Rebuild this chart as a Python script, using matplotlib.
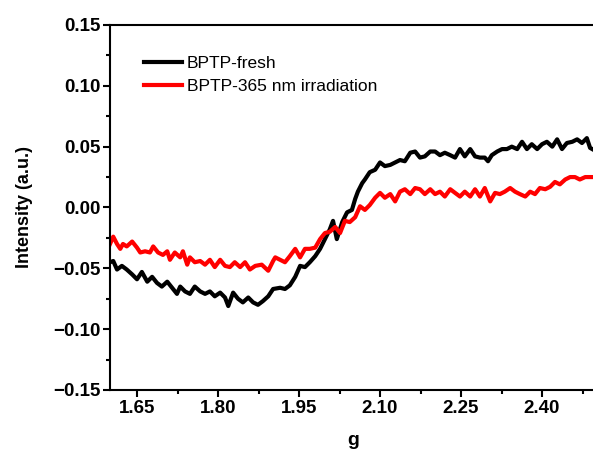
import matplotlib
matplotlib.use('Agg')
from matplotlib import pyplot as plt
from matplotlib.ticker import MultipleLocator

plt.rcParams['font.family'] = ['Liberation Sans', 'DejaVu Sans']

# g values and intensities
g_fresh = [1.600, 1.606, 1.613, 1.622, 1.631, 1.641, 1.650, 1.659, 1.669, 1.678,
           1.687, 1.696, 1.706, 1.715, 1.724, 1.730, 1.739, 1.748, 1.757, 1.767,
           1.776, 1.785, 1.794, 1.804, 1.813, 1.819, 1.828, 1.837, 1.846, 1.856,
           1.865, 1.874, 1.883, 1.893, 1.902, 1.915, 1.924, 1.933, 1.943, 1.952,
           1.961, 1.970, 1.980, 1.989, 1.998, 2.007, 2.013, 2.020, 2.030, 2.039,
           2.048, 2.054, 2.059, 2.067, 2.072, 2.081, 2.091, 2.100, 2.109, 2.119,
           2.128, 2.137, 2.146, 2.156, 2.165, 2.174, 2.183, 2.193, 2.202, 2.211,
           2.220, 2.230, 2.239, 2.248, 2.257, 2.267, 2.276, 2.285, 2.294, 2.300,
           2.307, 2.317, 2.326, 2.335, 2.344, 2.354, 2.363, 2.372, 2.381, 2.391,
           2.400, 2.409, 2.419, 2.428, 2.437, 2.446, 2.456, 2.465, 2.474, 2.483,
           2.489, 2.493]
i_fresh = [-0.045, -0.044, -0.051, -0.048, -0.051, -0.055, -0.059, -0.053, -0.061, -0.057,
           -0.062, -0.065, -0.061, -0.066, -0.071, -0.065, -0.069, -0.071, -0.065, -0.069,
           -0.071, -0.069, -0.073, -0.070, -0.074, -0.081, -0.070, -0.075, -0.078, -0.074,
           -0.078, -0.080, -0.077, -0.073, -0.067, -0.066, -0.067, -0.064, -0.057, -0.048,
           -0.049, -0.045, -0.040, -0.034, -0.026, -0.018, -0.011, -0.026, -0.012, -0.004,
           -0.002, 0.007, 0.013, 0.020, 0.023, 0.029, 0.031, 0.037, 0.034, 0.035,
           0.037, 0.039, 0.038, 0.045, 0.046, 0.041, 0.042, 0.046, 0.046, 0.043,
           0.045, 0.043, 0.041, 0.048, 0.042, 0.048, 0.042, 0.041, 0.041, 0.038,
           0.043, 0.046, 0.048, 0.048, 0.050, 0.048, 0.054, 0.048, 0.052, 0.048,
           0.052, 0.054, 0.050, 0.056, 0.048, 0.053, 0.054, 0.056, 0.053, 0.057,
           0.049, 0.048]

g_irr = [1.600, 1.606, 1.613, 1.619, 1.624, 1.631, 1.641, 1.650, 1.656, 1.665,
         1.674, 1.680, 1.689, 1.698, 1.706, 1.711, 1.720, 1.730, 1.735, 1.743,
         1.748, 1.757, 1.767, 1.776, 1.785, 1.794, 1.804, 1.813, 1.822, 1.831,
         1.841, 1.850, 1.859, 1.869, 1.881, 1.893, 1.902, 1.906, 1.915, 1.924,
         1.933, 1.943, 1.952, 1.961, 1.970, 1.980, 1.989, 1.998, 2.007, 2.017,
         2.026, 2.035, 2.044, 2.054, 2.063, 2.072, 2.081, 2.091, 2.100, 2.109,
         2.119, 2.128, 2.137, 2.146, 2.156, 2.165, 2.174, 2.183, 2.193, 2.202,
         2.211, 2.220, 2.230, 2.239, 2.248, 2.257, 2.267, 2.276, 2.285, 2.294,
         2.304, 2.313, 2.322, 2.331, 2.341, 2.350, 2.359, 2.369, 2.378, 2.387,
         2.396, 2.406, 2.415, 2.424, 2.433, 2.443, 2.452, 2.461, 2.470, 2.480,
         2.493]
i_irr = [-0.030, -0.024, -0.030, -0.034, -0.030, -0.032, -0.028, -0.033, -0.037, -0.036,
         -0.037, -0.032, -0.037, -0.039, -0.036, -0.043, -0.037, -0.041, -0.036, -0.047,
         -0.041, -0.045, -0.044, -0.047, -0.043, -0.049, -0.043, -0.048, -0.049, -0.045,
         -0.049, -0.045, -0.051, -0.048, -0.047, -0.052, -0.044, -0.041, -0.043, -0.045,
         -0.040, -0.034, -0.041, -0.034, -0.034, -0.033, -0.026, -0.021, -0.020, -0.016,
         -0.021, -0.011, -0.012, -0.008, 0.001, -0.002, 0.002, 0.008, 0.012, 0.008,
         0.011, 0.005, 0.013, 0.015, 0.011, 0.016, 0.015, 0.011, 0.015, 0.011,
         0.013, 0.009, 0.015, 0.012, 0.009, 0.013, 0.009, 0.015, 0.009, 0.016,
         0.005, 0.012, 0.011, 0.013, 0.016, 0.013, 0.011, 0.009, 0.013, 0.011,
         0.016, 0.015, 0.017, 0.021, 0.019, 0.023, 0.025, 0.025, 0.023, 0.025,
         0.025]

labels = ['BPTP-fresh', 'BPTP-365 nm irradiation']

fig = plt.figure(figsize=(5.93, 4.55), dpi=100)
ax = fig.add_axes([0.1855, 0.1429, 0.8196, 0.8022])

ax.plot(g_fresh, i_fresh, color='black', lw=3, label=labels[0])
ax.plot(g_irr, i_irr, color='red', lw=3, label=labels[1])

ax.set_xlim(1.6, 2.5)
ax.set_ylim(-0.15, 0.15)
ax.xaxis.set_minor_locator(MultipleLocator(0.075))
ax.yaxis.set_major_locator(MultipleLocator(0.05))
ax.yaxis.set_minor_locator(MultipleLocator(0.025))
ax.set_xticks([1.65, 1.80, 1.95, 2.10, 2.25, 2.40])
ax.set_xticklabels(['1.65', '1.80', '1.95', '2.10', '2.25', '2.40'])

ax.spines['right'].set_visible(False)
for s in ['left', 'bottom', 'top']:
    ax.spines[s].set_linewidth(1.5)

ax.tick_params(which='major', direction='out', length=5, width=1.5,
               labelsize=13.5, pad=2, top=False, right=False)
ax.tick_params(which='minor', direction='out', length=3, width=1.5,
               top=False, right=False)
for lab in ax.get_xticklabels() + ax.get_yticklabels():
    lab.set_fontweight('bold')

ax.set_xlabel('g', fontsize=14, fontweight='bold', labelpad=11)
ax.set_ylabel('Intensity (a.u.)', fontsize=13, fontweight='bold', labelpad=14)

ax.legend(loc='upper left', bbox_to_anchor=(0.055, 0.935), frameon=False,
          fontsize=12.5, handlelength=2.2, handletextpad=0.3, labelspacing=0.45,
          borderaxespad=0)

fig.savefig('out.png', dpi=100)
